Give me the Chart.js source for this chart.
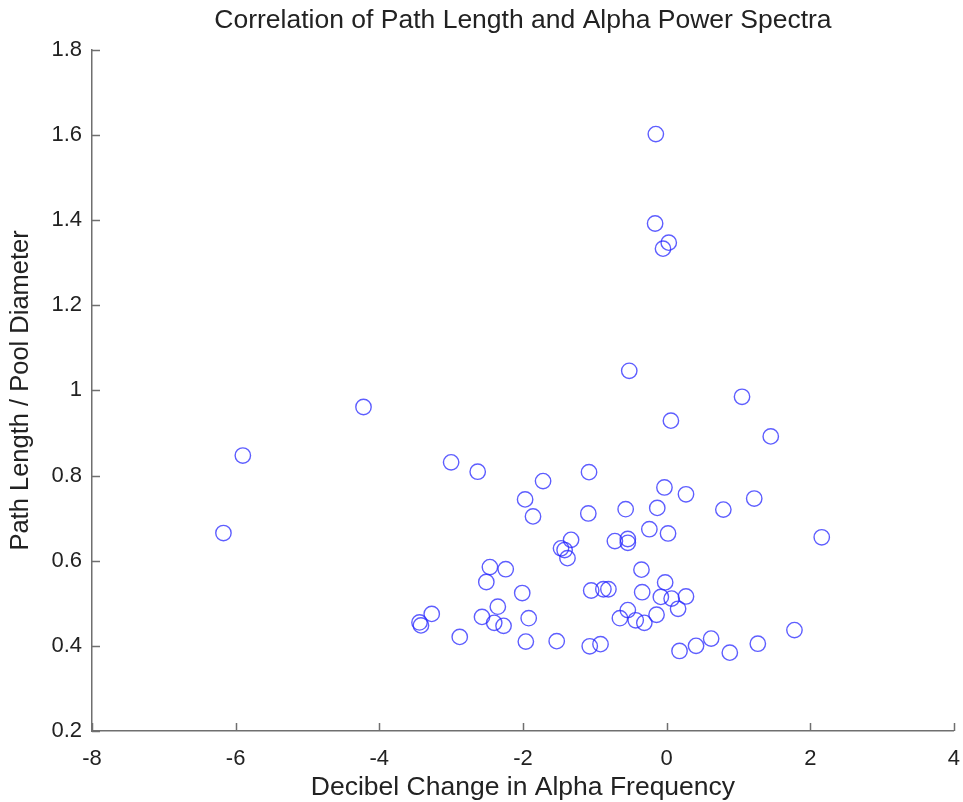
<!DOCTYPE html>
<html>
<head>
<meta charset="utf-8">
<script src="https://cdn.jsdelivr.net/npm/chart.js@4/dist/chart.umd.min.js"></script>
<style>
  html, body { margin: 0; padding: 0; background: #fff; }
  #wrap { width: 963px; height: 802px; }
</style>
</head>
<body>
<div id="wrap"><canvas id="scatter"></canvas></div>
<script>
// decibel change (x) and path length / pool diameter (y), one entry per subject
const decibelChange = [
  -6.17, -5.90, -4.22, -3.00, -2.63, -1.72, -1.97, -1.86, -1.08, -1.09,
  -1.33, -1.47, -1.42, -1.38, -0.72, -0.54, -0.54, -0.57, -0.24, -0.13,
  -0.03, 0.02, 0.27, 0.79, 1.22, 2.16, -0.52, 1.05, 0.06, 1.45,
  -0.15, -0.16, 0.03, -0.05, -2.46, -2.24, -2.51, -2.01, -0.35, -1.05,
  -0.88, -0.81, -0.34, -0.02, -0.08, 0.07, 0.27, 0.16, -2.35, -2.57,
  -2.40, -2.27, -1.92, -3.27, -3.44, -3.42, -2.88, -1.96, -1.53, -1.07,
  -0.92, -0.65, -0.54, -0.43, -0.31, -0.14, 0.18, 0.41, 0.62, 0.88,
  1.27, 1.78
];
const pathRatio = [
  0.665, 0.847, 0.961, 0.831, 0.809, 0.787, 0.744, 0.704, 0.808, 0.711,
  0.649, 0.629, 0.625, 0.606, 0.646, 0.651, 0.642, 0.721, 0.674, 0.724,
  0.772, 0.664, 0.756, 0.720, 0.746, 0.655, 1.046, 0.985, 0.929, 0.892,
  1.602, 1.392, 1.347, 1.333, 0.585, 0.580, 0.550, 0.524, 0.579, 0.530,
  0.533, 0.533, 0.526, 0.549, 0.515, 0.511, 0.516, 0.487, 0.492, 0.468,
  0.454, 0.447, 0.465, 0.475, 0.455, 0.448, 0.421, 0.410, 0.411, 0.399,
  0.404, 0.465, 0.484, 0.460, 0.454, 0.473, 0.388, 0.400, 0.417, 0.384,
  0.405, 0.437
];

// axis limits and tick spacing
const xRange = [-8, 4];
const xStep = 2;
const yRange = [0.2, 1.8];
const yStep = 0.2;

const axisColor = '#6f6f6f';
const textColor = '#222';
const fontFamily = "'Liberation Sans', Arial, Helvetica, sans-serif";

const points = decibelChange.map((x, i) => ({ x: x, y: pathRatio[i] }));

// tick marks drawn on the inside of the axes
const inwardTicks = {
  id: 'inwardTicks',
  afterDraw(chart) {
    const { ctx, chartArea, scales } = chart;
    const len = 8;
    ctx.save();
    ctx.strokeStyle = axisColor;
    ctx.lineWidth = 1.5;
    ctx.beginPath();
    scales.x.ticks.forEach((t, i) => {
      const px = Math.round(scales.x.getPixelForTick(i)) + 0.5;
      ctx.moveTo(px, chartArea.bottom);
      ctx.lineTo(px, chartArea.bottom - len);
    });
    scales.y.ticks.forEach((t, i) => {
      const py = Math.round(scales.y.getPixelForTick(i)) + 0.5;
      ctx.moveTo(chartArea.left, py);
      ctx.lineTo(chartArea.left + len, py);
    });
    ctx.stroke();
    ctx.restore();
  }
};

function tickText(value) {
  return String(+value.toFixed(1));
}

new Chart(document.getElementById('scatter'), {
  type: 'scatter',
  data: {
    datasets: [{
      data: points,
      pointStyle: 'circle',
      pointRadius: 7.7,
      pointBorderWidth: 1.4,
      pointBackgroundColor: 'rgba(0,0,0,0)',
      pointBorderColor: 'rgba(40,40,255,0.75)'
    }]
  },
  options: {
    responsive: true,
    maintainAspectRatio: false,
    animation: false,
    events: [],
    layout: { padding: 0 },
    plugins: {
      legend: { display: false },
      tooltip: { enabled: false },
      title: {
        display: true,
        fullSize: false,
        text: 'Correlation of Path Length and Alpha Power Spectra',
        color: textColor,
        font: { family: fontFamily, size: 26.5, weight: 'normal' },
        padding: { top: 5, bottom: 13 }
      }
    },
    scales: {
      x: {
        type: 'linear',
        min: xRange[0],
        max: xRange[1],
        afterFit(scale) {
          scale.height = 71;
          scale.paddingRight = 8; // room on the right so the axis ends near the canvas edge
        },
        border: { display: true, color: axisColor, width: 1.5 },
        grid: { display: false, drawTicks: false },
        ticks: {
          stepSize: xStep,
          padding: 15,
          color: textColor,
          font: { family: fontFamily, size: 22 },
          callback: tickText
        },
        title: {
          display: true,
          text: 'Decibel Change in Alpha Frequency',
          color: textColor,
          font: { family: fontFamily, size: 26.5 },
          padding: { top: 0, bottom: -2 }
        }
      },
      y: {
        type: 'linear',
        min: yRange[0],
        max: yRange[1],
        afterFit(scale) { scale.width = 92; },
        border: { display: true, color: axisColor, width: 1.5 },
        grid: { display: false, drawTicks: false },
        ticks: {
          stepSize: yStep,
          padding: 10,
          color: textColor,
          font: { family: fontFamily, size: 22 },
          callback: tickText
        },
        title: {
          display: true,
          text: 'Path Length / Pool Diameter',
          color: textColor,
          font: { family: fontFamily, size: 25.5 },
          padding: { top: 6, bottom: 0 }
        }
      }
    }
  },
  plugins: [inwardTicks]
});
</script>
</body>
</html>
